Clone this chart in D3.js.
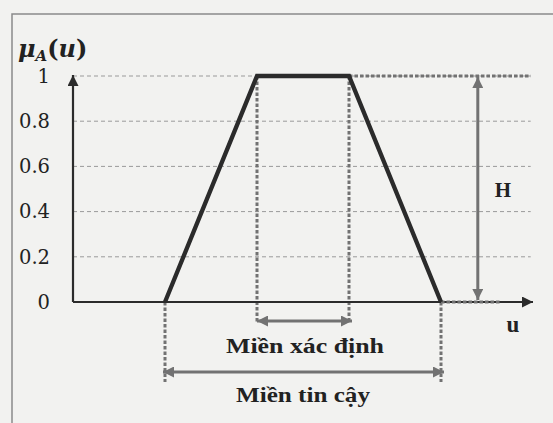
<!DOCTYPE html>
<html>
<head>
<meta charset="utf-8">
<script src="https://cdn.jsdelivr.net/npm/d3@7"></script>
<style>
  html, body { margin: 0; padding: 0; background: #f2f2f0; }
  svg { display: block; }
</style>
</head>
<body>
<svg width="553" height="423"></svg>
<script>
// membership function values (trapezoid a, b, c, d)
var trapU = [2, 4, 6, 8],
    trapMu = [0, 1, 1, 0];
var yTicks = [0, 0.2, 0.4, 0.6, 0.8, 1];
var coreRange = [4, 6],      // Miền xác định
    supportRange = [2, 8];   // Miền tin cậy
var uDomain = [0, 10],
    heightU = 8.8;           // where the H arrow sits
var labels = {core: "Miền xác định", support: "Miền tin cậy", h: "H", u: "u"};

var svg = d3.select("svg"),
    margin = {top: 76, right: 20, bottom: 121, left: 73},
    width = +svg.attr("width") - margin.left - margin.right,
    height = +svg.attr("height") - margin.top - margin.bottom;

var x = d3.scaleLinear().domain(uDomain).range([0, width]),
    y = d3.scaleLinear().domain([0, 1]).range([height, 0]);

var dark = "#2b2b2b", grey = "#727272";

var defs = svg.append("defs");
function marker(id, color, w, orient) {
  defs.append("marker")
      .attr("id", id)
      .attr("viewBox", "0 0 10 10")
      .attr("refX", 10).attr("refY", 5)
      .attr("markerWidth", w).attr("markerHeight", w)
      .attr("markerUnits", "userSpaceOnUse")
      .attr("orient", orient)
    .append("path")
      .attr("d", "M0,0 L10,5 L0,10 z")
      .attr("fill", color);
}
marker("arrDark", dark, 11, "auto");
marker("arrGrey", grey, 11, "auto-start-reverse");

// frame of the scanned box
svg.append("path")
    .attr("d", "M12,423 V14 H553")
    .attr("fill", "none")
    .attr("stroke", "#8a8a8a")
    .attr("stroke-width", 1.5);

var g = svg.append("g")
    .attr("transform", "translate(" + margin.left + "," + margin.top + ")");

// dashed grid
g.selectAll(".grid")
  .data(yTicks.filter(function(d) { return d > 0; }))
  .enter().append("line")
    .attr("class", "grid")
    .attr("x1", 0).attr("x2", x(9.95))
    .attr("y1", function(d) { return y(d); })
    .attr("y2", function(d) { return y(d); })
    .attr("stroke", "#9a9a9a")
    .attr("stroke-width", 1)
    .attr("stroke-dasharray", "4,3");

// y tick labels
g.append("g")
    .call(d3.axisLeft(y).tickValues(yTicks).tickSize(0).tickPadding(23)
      .tickFormat(function(d) { return (d === 0 || d === 1) ? d : d.toFixed(1); }))
    .call(function(a) { a.select(".domain").remove(); })
    .selectAll("text")
      .attr("font-family", "DejaVu Serif")
      .attr("font-size", 19.5)
      .attr("fill", "#222");

// dotted guides
var dotted = function(x1, y1, x2, y2) {
  g.append("line")
      .attr("x1", x1).attr("y1", y1).attr("x2", x2).attr("y2", y2)
      .attr("stroke", grey)
      .attr("stroke-width", 3)
      .attr("stroke-dasharray", "3.5,2");
};
dotted(x(coreRange[0]), y(1), x(coreRange[0]), y(0) + 21);
dotted(x(coreRange[1]), y(1), x(coreRange[1]), y(0) + 21);
dotted(x(supportRange[0]), y(0), x(supportRange[0]), y(0) + 80);
dotted(x(supportRange[1]), y(0), x(supportRange[1]), y(0) + 80);
dotted(x(trapU[2]), y(1), x(9.95), y(1));

// axes with arrows
g.append("line")
    .attr("x1", 0).attr("y1", y(0)).attr("x2", 0).attr("y2", y(1) - 1)
    .attr("stroke", dark).attr("stroke-width", 2.2)
    .attr("marker-end", "url(#arrDark)");
g.append("line")
    .attr("x1", 0).attr("y1", y(0)).attr("x2", x(uDomain[1]))
    .attr("y2", y(0))
    .attr("stroke", dark).attr("stroke-width", 2.2)
    .attr("marker-end", "url(#arrDark)");
dotted(x(trapU[3]), y(0), x(heightU) + 22, y(0));

// trapezoid
var line = d3.line()
    .x(function(d, i) { return x(trapU[i]); })
    .y(function(d) { return y(d); });
g.append("path")
    .datum(trapMu)
    .attr("d", line)
    .attr("fill", "none")
    .attr("stroke", dark)
    .attr("stroke-width", 4.3)
    .attr("stroke-linejoin", "miter");

// double arrows
var dbl = function(x1, y1, x2, y2) {
  g.append("line")
      .attr("x1", x1).attr("y1", y1).attr("x2", x2).attr("y2", y2)
      .attr("stroke", grey)
      .attr("stroke-width", 3)
      .attr("marker-start", "url(#arrGrey)")
      .attr("marker-end", "url(#arrGrey)");
};
dbl(x(coreRange[0]), y(0) + 19, x(coreRange[1]) + 3, y(0) + 19);
dbl(x(supportRange[0]) - 2, y(0) + 70, x(supportRange[1]) + 3, y(0) + 70);
dbl(x(heightU), y(1) + 1, x(heightU), y(0) - 2);

// text labels
var serif = "Liberation Serif";
g.append("text")
    .attr("x", (x(coreRange[0]) + x(coreRange[1])) / 2 + 2)
    .attr("y", y(0) + 51)
    .attr("text-anchor", "middle")
    .attr("font-family", serif).attr("font-weight", "bold").attr("font-size", 20)
    .attr("textLength", 158).attr("lengthAdjust", "spacingAndGlyphs")
    .attr("fill", "#222")
    .text(labels.core);
g.append("text")
    .attr("x", (x(supportRange[0]) + x(supportRange[1])) / 2)
    .attr("y", y(0) + 100)
    .attr("text-anchor", "middle")
    .attr("font-family", serif).attr("font-weight", "bold").attr("font-size", 20)
    .attr("textLength", 134).attr("lengthAdjust", "spacingAndGlyphs")
    .attr("fill", "#222")
    .text(labels.support);
g.append("text")
    .attr("x", x(heightU) + 25)
    .attr("y", y(0.5) + 8)
    .attr("text-anchor", "middle")
    .attr("font-family", serif).attr("font-weight", "bold").attr("font-size", 21)
    .attr("fill", "#222")
    .text(labels.h);
g.append("text")
    .attr("x", x(uDomain[1]) - 20)
    .attr("y", y(0) + 30)
    .attr("text-anchor", "middle")
    .attr("font-family", serif).attr("font-weight", "bold").attr("font-size", 23)
    .attr("fill", "#222")
    .text(labels.u);

// y title  mu_A(u)
var title = svg.append("text")
    .attr("x", 18).attr("y", 57)
    .attr("font-family", "DejaVu Serif").attr("font-weight", "bold")
    .attr("font-size", 24)
    .attr("fill", "#222");
title.append("tspan").attr("font-style", "italic").text("μ");
title.append("tspan").attr("font-style", "italic").attr("font-size", 15)
    .attr("dy", 4).text("A");
title.append("tspan").attr("dy", -4).text("(");
title.append("tspan").attr("font-style", "italic").text("u");
title.append("tspan").text(")");
</script>
</body>
</html>
